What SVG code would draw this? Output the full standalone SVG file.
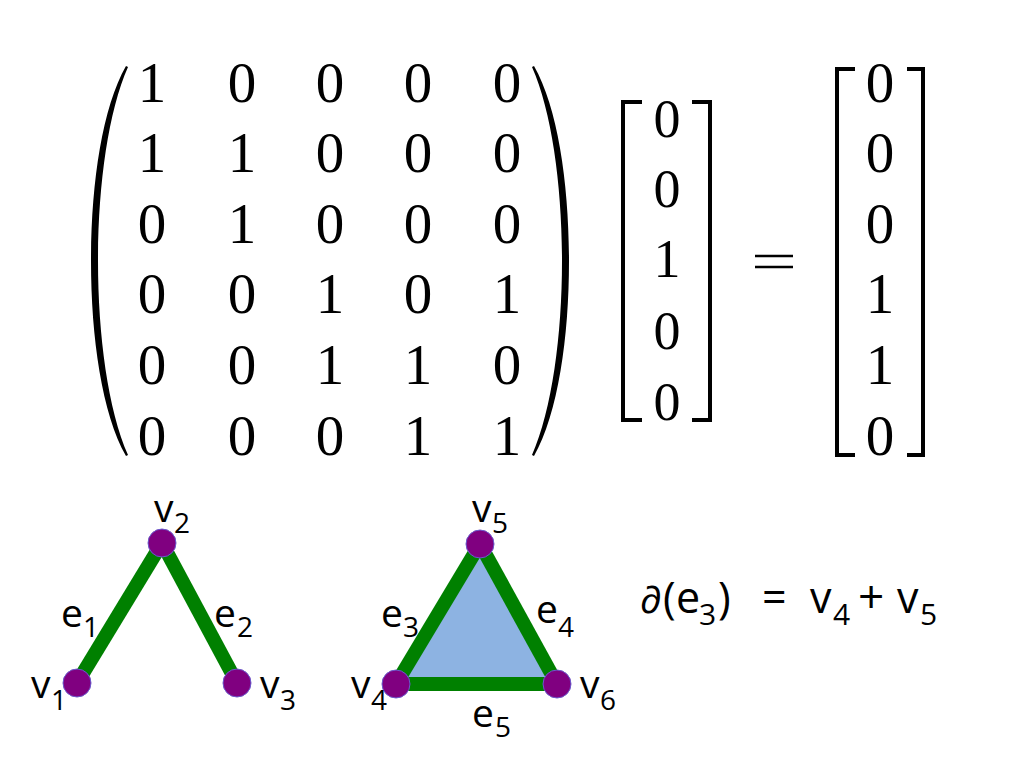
<svg xmlns="http://www.w3.org/2000/svg" width="1024" height="768" viewBox="0 0 1024 768">
<style>
.m{font-family:"Liberation Serif","DejaVu Serif",serif;font-size:57px;fill:#000;text-anchor:middle}
.mv{font-family:"Liberation Serif","DejaVu Serif",serif;font-size:54px;fill:#000;text-anchor:middle}
.br{fill:none;stroke:#000;stroke-width:4}
.lb{font-family:"Open Sans","Noto Sans","DejaVu Sans",sans-serif;font-size:39px;fill:#000}
.sb{font-family:"Open Sans","Noto Sans","DejaVu Sans",sans-serif;font-size:28px;fill:#000}
.fm{font-family:"Open Sans","Noto Sans","DejaVu Sans",sans-serif;font-size:43px;fill:#000}
.fs{font-family:"Open Sans","Noto Sans","DejaVu Sans",sans-serif;font-size:30px;fill:#000}
.edge{stroke:#008000;stroke-width:14;stroke-linecap:butt;fill:none}
.node{fill:#800080;stroke:#6a5acd;stroke-width:1}
</style>
<rect width="1024" height="768" fill="#fff"/>

<g id="matrix">
<path d="M126,66 C102,108 91,185 91,261 C91,337 102,414 126,456 L128,455 C108,410 98,335 98,261 C98,187 108,112 128,67 Z" fill="#000"/>
<path d="M534,66 C558,108 569,185 569,261 C569,337 558,414 534,456 L532,455 C552,410 562,335 562,261 C562,187 552,112 532,67 Z" fill="#000"/>
<text class="m" y="102"><tspan x="152">1</tspan><tspan x="242">0</tspan><tspan x="330">0</tspan><tspan x="418">0</tspan><tspan x="507">0</tspan></text>
<text class="m" y="172"><tspan x="152">1</tspan><tspan x="242">1</tspan><tspan x="330">0</tspan><tspan x="418">0</tspan><tspan x="507">0</tspan></text>
<text class="m" y="243"><tspan x="152">0</tspan><tspan x="242">1</tspan><tspan x="330">0</tspan><tspan x="418">0</tspan><tspan x="507">0</tspan></text>
<text class="m" y="313"><tspan x="152">0</tspan><tspan x="242">0</tspan><tspan x="330">1</tspan><tspan x="418">0</tspan><tspan x="507">1</tspan></text>
<text class="m" y="384"><tspan x="152">0</tspan><tspan x="242">0</tspan><tspan x="330">1</tspan><tspan x="418">1</tspan><tspan x="507">0</tspan></text>
<text class="m" y="455"><tspan x="152">0</tspan><tspan x="242">0</tspan><tspan x="330">0</tspan><tspan x="418">1</tspan><tspan x="507">1</tspan></text>
</g>

<g id="vector-in">
<path class="br" d="M642,102 L623,102 L623,420 L642,420"/>
<path class="br" d="M692,102 L710,102 L710,420 L692,420"/>
<text class="mv" x="667" y="137">0</text>
<text class="mv" x="667" y="207">0</text>
<text class="mv" x="667" y="277">1</text>
<text class="mv" x="667" y="349">0</text>
<text class="mv" x="667" y="420">0</text>
</g>

<g id="equals">
<line x1="755" y1="256" x2="793" y2="256" stroke="#000" stroke-width="2.5"/>
<line x1="755" y1="267" x2="793" y2="267" stroke="#000" stroke-width="2.5"/>
</g>

<g id="vector-out">
<path class="br" d="M855,69 L837,69 L837,455 L855,455"/>
<path class="br" d="M907,69 L923,69 L923,455 L907,455"/>
<text class="m" x="880" y="102">0</text>
<text class="m" x="880" y="172">0</text>
<text class="m" x="880" y="243">0</text>
<text class="m" x="880" y="313">1</text>
<text class="m" x="880" y="384">1</text>
<text class="m" x="880" y="455">0</text>
</g>

<g id="face">
<polygon points="396,684 480,544 557,684" fill="#8db3e2"/>
</g>

<g id="connectors">
<line id="e1" class="edge" x1="77" y1="683" x2="162" y2="543"/>
<line id="e2" class="edge" x1="162" y1="543" x2="237" y2="683"/>
<line id="e3" class="edge" x1="396" y1="684" x2="480" y2="544"/>
<line id="e4" class="edge" x1="480" y1="544" x2="557" y2="684"/>
<line id="e5" class="edge" x1="396" y1="684" x2="557" y2="684"/>
</g>

<g id="edge-labels">
<text class="lb" x="61" y="627">e</text><text class="sb" x="83" y="637">1</text>
<text class="lb" x="214" y="627">e</text><text class="sb" x="237" y="637">2</text>
<text class="lb" x="381" y="627">e</text><text class="sb" x="403" y="637">3</text>
<text class="lb" x="536" y="623">e</text><text class="sb" x="558" y="637">4</text>
<text class="lb" x="472" y="727">e</text><text class="sb" x="495" y="737">5</text>
</g>

<g id="v1"><circle class="node" cx="77" cy="683" r="14"/><text class="lb" x="31" y="698">v</text><text class="sb" x="51" y="710">1</text></g>
<g id="v2"><circle class="node" cx="162" cy="543" r="14"/><text class="lb" x="154" y="522">v</text><text class="sb" x="174" y="533">2</text></g>
<g id="v3"><circle class="node" cx="237" cy="683" r="14"/><text class="lb" x="260" y="698">v</text><text class="sb" x="280" y="710">3</text></g>
<g id="v4"><circle class="node" cx="396" cy="684" r="14"/><text class="lb" x="351" y="698">v</text><text class="sb" x="371" y="710">4</text></g>
<g id="v5"><circle class="node" cx="480" cy="544" r="14"/><text class="lb" x="472" y="522">v</text><text class="sb" x="492" y="533">5</text></g>
<g id="v6"><circle class="node" cx="557" cy="684" r="14"/><text class="lb" x="580" y="698">v</text><text class="sb" x="600" y="710">6</text></g>

<g id="formula">
<text class="fm" x="640" y="613" style="font-size:38px">∂</text>
<text class="fm" x="663" y="613">(</text>
<text class="fm" x="676" y="613">e</text>
<text class="fs" x="699" y="625">3</text>
<text class="fm" x="718" y="613">)</text>
<text class="fm" x="762" y="613">=</text>
<text class="fm" x="810" y="613">v</text>
<text class="fs" x="833" y="625">4</text>
<text class="fm" x="858" y="613" style="font-size:46px">+</text>
<text class="fm" x="897" y="613">v</text>
<text class="fs" x="920" y="625">5</text>
</g>
</svg>
